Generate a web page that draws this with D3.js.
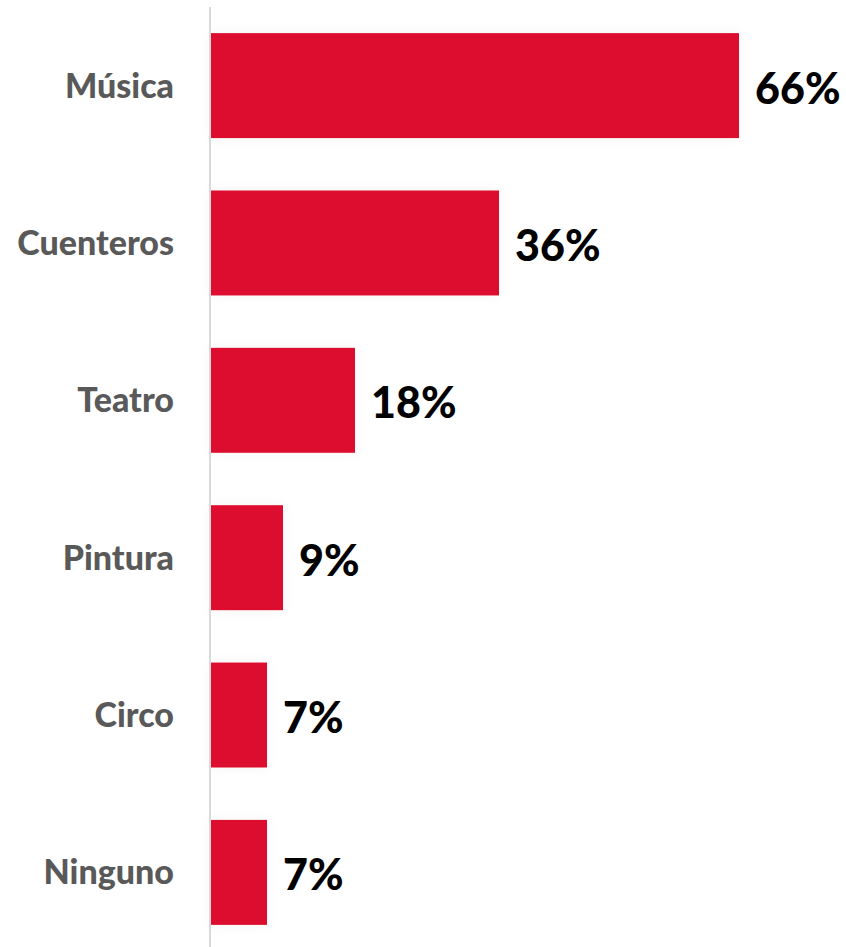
<!DOCTYPE html>
<html>
<head>
<meta charset="utf-8">
<script src="https://cdn.jsdelivr.net/npm/d3@7"></script>
<style>
  html, body { margin: 0; padding: 0; background: #fff; }
</style>
</head>
<body>
<div id="chart"></div>
<script>
const categories = ["Música", "Cuenteros", "Teatro", "Pintura", "Circo", "Ninguno"]
const values = [66, 36, 18, 9, 7, 7]

const width = 846
const height = 947
const axisX = 210

const svg = d3.select("#chart")
  .append("svg")
  .attr("width", width)
  .attr("height", height)

const x = d3.scaleLinear().domain([0, 66]).range([axisX + 1, 739])
const y = d3.scaleBand().domain(categories).range([7, 951]).paddingInner(0.333).paddingOuter(0.166)

// faint glow behind bars
const defs = svg.append("defs")
const f = defs.append("filter").attr("id", "glow").attr("x", "-20%").attr("y", "-30%").attr("width", "140%").attr("height", "160%")
f.append("feDropShadow").attr("dx", 0).attr("dy", 0).attr("stdDeviation", 6)
  .attr("flood-color", "#000").attr("flood-opacity", 0.05)

const data = categories.map((c, i) => ({ cat: c, v: values[i] }))

svg.selectAll("rect.bar")
  .data(data)
  .enter()
  .append("rect")
  .attr("class", "bar")
  .attr("x", x(0))
  .attr("y", d => y(d.cat))
  .attr("width", d => x(d.v) - x(0))
  .attr("height", y.bandwidth())
  .attr("fill", "#DC0F2D")
  .attr("filter", "url(#glow)")

// axis line
svg.append("line")
  .attr("x1", axisX).attr("x2", axisX)
  .attr("y1", 7).attr("y2", height)
  .attr("stroke", "#d9d9d9")
  .attr("stroke-width", 2)

// category labels
svg.selectAll("text.cat")
  .data(data)
  .enter()
  .append("text")
  .attr("class", "cat")
  .attr("x", axisX - 36)
  .attr("y", d => y(d.cat) + y.bandwidth() / 2)
  .attr("dy", "0.35em")
  .attr("text-anchor", "end")
  .attr("fill", "#595959")
  .attr("font-family", "Lato, 'Open Sans', sans-serif")
  .attr("font-weight", 900)
  .attr("font-size", "34px")
  .text(d => d.cat)

// value labels
svg.selectAll("text.val")
  .data(data)
  .enter()
  .append("text")
  .attr("class", "val")
  .attr("x", d => x(d.v) + 16)
  .attr("y", d => y(d.cat) + y.bandwidth() / 2 + 3)
  .attr("dy", "0.35em")
  .attr("fill", "#000")
  .attr("font-family", "Lato, 'Open Sans', sans-serif")
  .attr("font-weight", 900)
  .attr("font-size", "43px")
  .text(d => d.v + "%")
</script>
</body>
</html>
